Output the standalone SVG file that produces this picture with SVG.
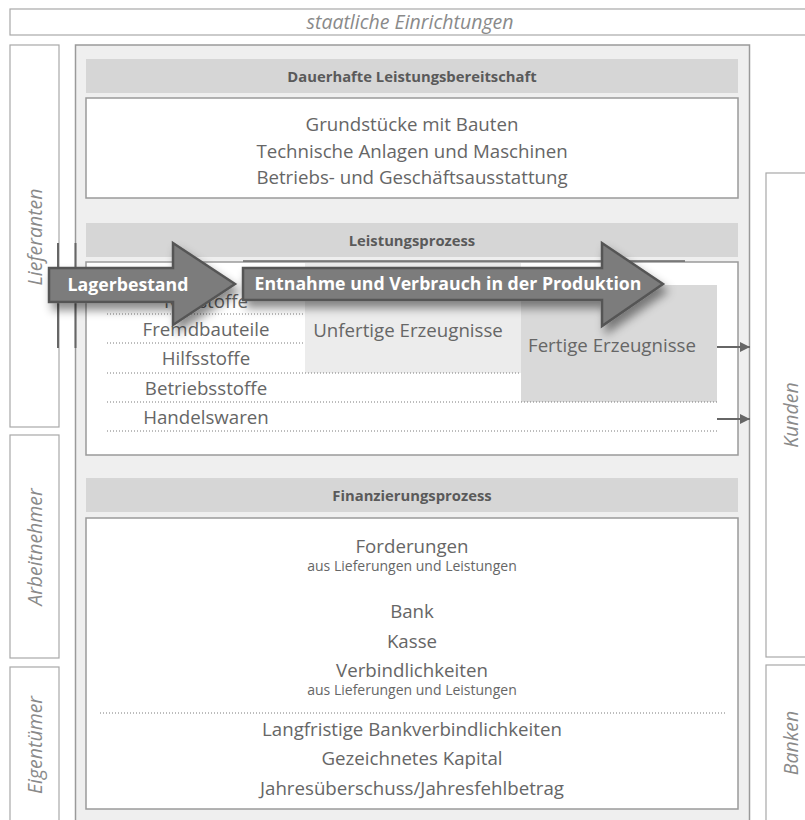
<svg xmlns="http://www.w3.org/2000/svg" width="805" height="820" viewBox="0 0 805 820">
<defs>
<style>
.side{fill:#fff;stroke:#a8a8a8;stroke-width:1.2}
.lbl{font-family:"Open Sans","Liberation Sans",sans-serif;font-style:italic;font-size:19.5px;fill:#8a8a8a;text-anchor:middle}
.hdr{fill:#d6d6d6}
.hdrt{font-family:"Open Sans","Liberation Sans",sans-serif;font-weight:bold;font-size:14.8px;fill:#5a5a5a;text-anchor:middle}
.wbox{fill:#fff;stroke:#9a9a9a;stroke-width:1.5}
.t{font-family:"Open Sans","Liberation Sans",sans-serif;font-size:18.7px;fill:#666;text-anchor:middle}
.s{font-family:"Open Sans","Liberation Sans",sans-serif;font-size:14px;fill:#666;text-anchor:middle}
.dot{stroke:#7a7a7a;stroke-width:1;stroke-dasharray:1 2;fill:none}
.arr{fill:#7b7b7b;stroke:#555;stroke-width:2.5;stroke-linejoin:miter}
.at{font-family:"Open Sans","Liberation Sans",sans-serif;font-weight:bold;font-size:17.7px;fill:#fff}
.con{stroke:#666;stroke-width:2;fill:none}
</style>
<marker id="ah" viewBox="0 0 10 10" refX="10" refY="5" markerWidth="5" markerHeight="5" orient="auto" markerUnits="strokeWidth">
<path d="M0,0 L10,5 L0,10 z" fill="#666"/>
</marker>
<filter id="sh" x="-20%" y="-40%" width="140%" height="190%">
<feDropShadow dx="4" dy="7" stdDeviation="5" flood-color="#000" flood-opacity="0.45"/>
</filter>
</defs>

<g id="staatliche">
<rect x="10" y="9" width="800" height="26" class="side"/>
<text x="410" y="29" class="lbl">staatliche Einrichtungen</text>
</g>

<g id="lieferanten">
<rect x="10" y="45" width="49" height="382" class="side"/>
<text class="lbl" transform="translate(42,237) rotate(-90)">Lieferanten</text>
</g>
<g id="arbeitnehmer">
<rect x="10" y="435" width="49" height="223" class="side"/>
<text class="lbl" transform="translate(42,547) rotate(-90)">Arbeitnehmer</text>
</g>
<g id="eigentuemer">
<rect x="10" y="667" width="49" height="160" class="side"/>
<text class="lbl" transform="translate(42,745) rotate(-90)">Eigentümer</text>
</g>
<g id="kunden">
<rect x="766" y="173" width="50" height="484" class="side"/>
<text class="lbl" transform="translate(798,415) rotate(-90)">Kunden</text>
</g>
<g id="banken">
<rect x="766" y="665" width="50" height="162" class="side"/>
<text class="lbl" transform="translate(798,743) rotate(-90)">Banken</text>
</g>

<g id="unternehmen">
<rect x="75.5" y="45" width="674" height="780" fill="#efefef" stroke="#9a9a9a" stroke-width="1.5"/>
</g>

<g id="dauerhafte">
<rect x="86" y="59" width="652" height="34" class="hdr"/>
<text x="412" y="82" class="hdrt">Dauerhafte Leistungsbereitschaft</text>
<rect x="86" y="98" width="652" height="100" class="wbox"/>
<text x="412" y="131" class="t">Grundstücke mit Bauten</text>
<text x="412" y="158" class="t">Technische Anlagen und Maschinen</text>
<text x="412" y="184" class="t">Betriebs- und Geschäftsausstattung</text>
</g>

<g id="leistungsprozess">
<rect x="86" y="223" width="652" height="34" class="hdr"/>
<text x="412" y="246" class="hdrt">Leistungsprozess</text>
<rect x="86" y="262" width="652" height="193" class="wbox"/>
<rect x="305" y="263" width="216" height="110" fill="#ececec"/>
<rect x="521" y="285" width="196" height="117" fill="#d9d9d9"/>
<text x="206" y="308" class="t">Rohstoffe</text>
<text x="206" y="336" class="t">Fremdbauteile</text>
<text x="206" y="365" class="t">Hilfsstoffe</text>
<text x="206" y="395" class="t">Betriebsstoffe</text>
<text x="206" y="424" class="t">Handelswaren</text>
<text x="408" y="337" class="t">Unfertige Erzeugnisse</text>
<text x="612" y="352" class="t">Fertige Erzeugnisse</text>
<line x1="107" y1="314" x2="305" y2="314" class="dot"/>
<line x1="107" y1="343" x2="305" y2="343" class="dot"/>
<line x1="107" y1="373" x2="521" y2="373" class="dot"/>
<line x1="107" y1="402" x2="717" y2="402" class="dot"/>
<line x1="107" y1="431" x2="717" y2="431" class="dot"/>
</g>

<g id="finanzierungsprozess">
<rect x="86" y="478" width="652" height="34" class="hdr"/>
<text x="412" y="501" class="hdrt">Finanzierungsprozess</text>
<rect x="86" y="518" width="652" height="291" class="wbox"/>
<text x="412" y="553" class="t">Forderungen</text>
<text x="412" y="571" class="s">aus Lieferungen und Leistungen</text>
<text x="412" y="618" class="t">Bank</text>
<text x="412" y="648" class="t">Kasse</text>
<text x="412" y="677" class="t">Verbindlichkeiten</text>
<text x="412" y="695" class="s">aus Lieferungen und Leistungen</text>
<line x1="100" y1="713" x2="725" y2="713" class="dot"/>
<text x="412" y="736" class="t">Langfristige Bankverbindlichkeiten</text>
<text x="412" y="765" class="t">Gezeichnetes Kapital</text>
<text x="412" y="795" class="t">Jahresüberschuss/Jahresfehlbetrag</text>
</g>

<g id="connectors">
<line x1="717" y1="347" x2="750" y2="347" class="con" marker-end="url(#ah)"/>
<line x1="717" y1="419" x2="750" y2="419" class="con" marker-end="url(#ah)"/>
<line x1="58" y1="243" x2="58" y2="348" stroke="#666" stroke-width="2"/>
<line x1="75.5" y1="243" x2="75.5" y2="348" stroke="#666" stroke-width="2"/>
<line x1="243" y1="261" x2="685" y2="261" stroke="#666" stroke-width="1.5"/>
</g>

<g id="arrow-lagerbestand">
<polygon class="arr" filter="url(#sh)" points="49,268 173,268 173,243 235,284 173,325 173,302 49,302"/>
<text x="128" y="291" class="at" text-anchor="middle">Lagerbestand</text>
</g>
<g id="arrow-entnahme">
<polygon class="arr" filter="url(#sh)" points="243,268 602,268 602,243 663,284 602,326 602,300 243,300"/>
<text x="448" y="290" class="at" text-anchor="middle">Entnahme und Verbrauch in der Produktion</text>
</g>
</svg>
